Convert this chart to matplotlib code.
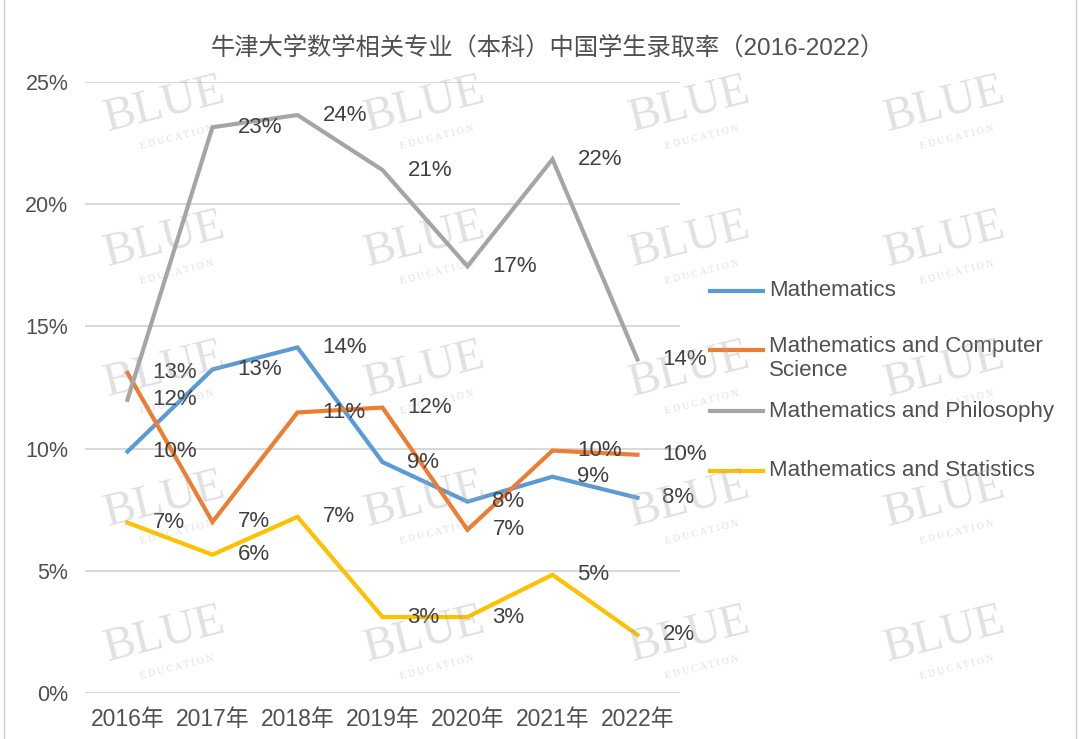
import matplotlib
matplotlib.use('Agg')
import matplotlib.pyplot as plt
from matplotlib.lines import Line2D
from matplotlib.patches import Rectangle

plt.rcParams['font.family'] = ['Liberation Sans', 'Noto Sans CJK SC', 'DejaVu Sans']

# ---- data (percent) ----
years = ['2016年', '2017年', '2018年', '2019年', '2020年', '2021年', '2022年']
series_names = ['Mathematics',
                'Mathematics and Computer\nScience',
                'Mathematics and Philosophy',
                'Mathematics and Statistics']
maths      = [9.88, 13.24, 14.14, 9.45, 7.83, 8.85, 7.99]
maths_cs   = [13.1, 7.0, 11.48, 11.68, 6.68, 9.92, 9.75]
maths_phil = [12.0, 23.15, 23.65, 21.4, 17.46, 21.84, 13.65]
maths_stat = [6.97, 5.66, 7.21, 3.11, 3.11, 4.84, 2.38]
colors = ['#5B9BD5', '#ED7D31', '#A5A5A5', '#FFC000']

title = '牛津大学数学相关专业（本科）中国学生录取率（2016-2022）'
txt_col = '#505050'

fig = plt.figure(figsize=(10.8, 7.39), dpi=100)
ax = fig.add_axes([0.0787, 0.0622, 0.5509, 0.8268])

x = range(len(years))
all_series = [maths, maths_cs, maths_phil, maths_stat]
for vals, c in zip(all_series, colors):
    ax.plot(x, vals, color=c, lw=3, solid_joinstyle='miter', zorder=3)
    for xi, v in zip(x, vals):
        ax.annotate(f'{round(v)}%', (xi, v), xytext=(18, 0),
                    textcoords='offset points', ha='left', va='center',
                    fontsize=16, color='#404040', zorder=4)

ax.set_xlim(-0.5, 6.5)
ax.set_ylim(0, 25)
ax.set_yticks([0, 5, 10, 15, 20, 25])
ax.set_yticklabels([f'{t}%' for t in [0, 5, 10, 15, 20, 25]])
ax.set_xticks(list(x))
ax.set_xticklabels(years)
ax.tick_params(length=0, colors=txt_col)
ax.tick_params(axis='y', pad=12, labelsize=15.5)
ax.tick_params(axis='x', pad=11, labelsize=16.5)
ax.grid(axis='y', color='#d6d6d6', lw=1.3)
ax.set_axisbelow(True)
for s in ax.spines.values():
    s.set_visible(False)

fig.text(0.507, 1 - 48 / 739, title, ha='center', va='center',
         fontsize=17.5, color=txt_col)

# legend, drawn by hand to follow the original spacing
leg_y = [291, 350, 411, 471]
for name, c, yy in zip(series_names, colors, leg_y):
    fy = 1 - yy / 739
    fig.add_artist(Line2D([710 / 1080, 763 / 1080], [fy, fy], color=c, lw=3))
    if '\n' in name:
        fig.text(769 / 1080, fy + 14 / 739, name, ha='left', va='top',
                 fontsize=16, color=txt_col, linespacing=1.2)
    else:
        fig.text(769 / 1080, fy, name, ha='left', va='center',
                 fontsize=16, color=txt_col)

# faint watermark
for wx in [165, 425, 690, 945]:
    for wy in [105, 240, 370, 500, 635]:
        fig.text(wx / 1080, 1 - wy / 739, 'BLUE', family='Liberation Serif',
                 fontsize=34, color='#a8a8a8', alpha=0.35, rotation=14,
                 ha='center', va='center', zorder=10)
        fig.text((wx + 12) / 1080, 1 - (wy + 32) / 739, 'E D U C A T I O N',
                 family='Liberation Serif', fontsize=7, color='#a8a8a8',
                 alpha=0.35, rotation=14, ha='center', va='center', zorder=10)

fig.add_artist(Rectangle((4 / 1080, -0.01), 1072 / 1080, 1.02, transform=fig.transFigure,
                         fill=False, ec='#d0d0d0', lw=1))

fig.savefig('out.png', dpi=100)
